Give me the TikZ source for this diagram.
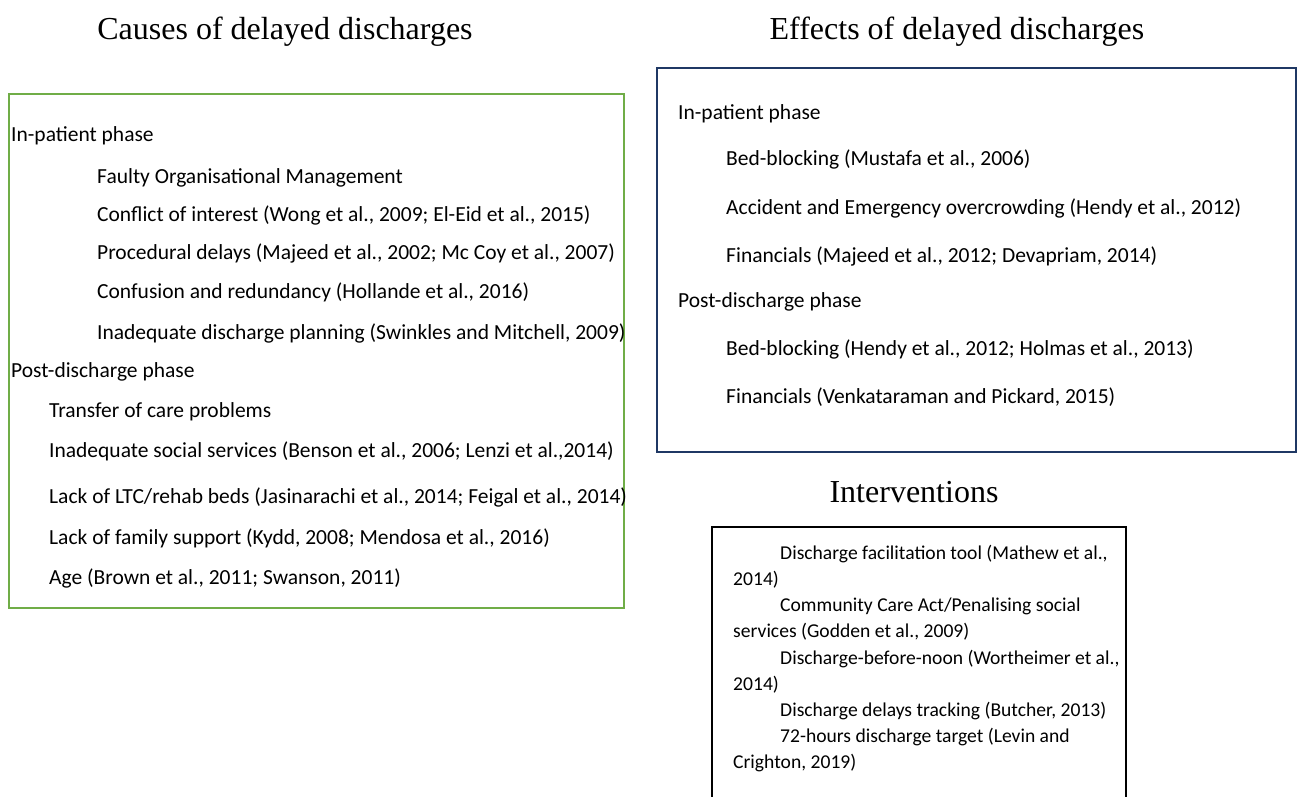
\documentclass[tikz,border=0pt]{standalone}
\usepackage{fontspec}
\setmainfont{Carlito}
\newfontfamily\titlefont{Liberation Serif}
\definecolor{boxgreen}{HTML}{70AD47}
\definecolor{boxnavy}{HTML}{1F3864}
\begin{document}
\begin{tikzpicture}[x=1pt,y=-1pt,
  txt/.style={anchor=base west, inner sep=0pt, font=\fontsize{21.5}{26}\selectfont},
  itxt/.style={anchor=base west, inner sep=0pt, font=\fontsize{19.6}{24}\selectfont},
  ttl/.style={anchor=base, inner sep=0pt, font=\titlefont\fontsize{32}{38}\selectfont},
  greenbox/.style={draw=boxgreen, line width=2.5pt},
  navybox/.style={draw=boxnavy, line width=2.5pt},
  blackbox/.style={draw=black, line width=2pt}]
\useasboundingbox (0,0) rectangle (1298,797);

% titles
\node[ttl] (tcauses) at (285,40) {Causes of delayed discharges};
\node[ttl] (teffects) at (957,40) {Effects of delayed discharges};
\node[ttl] (tinterv) at (914,502) {Interventions};

% boxes
\draw[greenbox] (9,94) rectangle (624,608);
\draw[navybox] (657,68) rectangle (1296,452);
\draw[blackbox] (712,800) -- (712,527) -- (1126,527) -- (1126,800);

% causes
\node[txt] (c1) at (11,142) {In-patient phase};
\node[txt] (c2) at (97,183) {Faulty Organisational Management};
\node[txt] (c3) at (97,221) {Conflict of interest (Wong et al., 2009; El-Eid et al., 2015)};
\node[txt] (c4) at (97,259) {Procedural delays (Majeed et al., 2002; Mc Coy et al., 2007)};
\node[txt] (c5) at (97,298) {Confusion and redundancy (Hollande et al., 2016)};
\node[txt] (c6) at (97,339) {Inadequate discharge planning (Swinkles and Mitchell, 2009)};
\node[txt] (c7) at (11,377) {Post-discharge phase};
\node[txt] (c8) at (49,417) {Transfer of care problems};
\node[txt] (c9) at (49,457) {Inadequate social services (Benson et al., 2006; Lenzi et al.,2014)};
\node[txt] (c10) at (49,503) {Lack of LTC/rehab beds (Jasinarachi et al., 2014; Feigal et al., 2014)};
\node[txt] (c11) at (49,544) {Lack of family support (Kydd, 2008; Mendosa et al., 2016)};
\node[txt] (c12) at (49,584) {Age (Brown et al., 2011; Swanson, 2011)};

% effects
\node[txt] (e1) at (678,120) {In-patient phase};
\node[txt] (e2) at (726,165) {Bed-blocking (Mustafa et al., 2006)};
\node[txt] (e3) at (726,214) {Accident and Emergency overcrowding (Hendy et al., 2012)};
\node[txt] (e4) at (726,262) {Financials (Majeed et al., 2012; Devapriam, 2014)};
\node[txt] (e5) at (678,307) {Post-discharge phase};
\node[txt] (e6) at (726,355) {Bed-blocking (Hendy et al., 2012; Holmas et al., 2013)};
\node[txt] (e7) at (726,403) {Financials (Venkataraman and Pickard, 2015)};

% interventions
\node[itxt] (i1) at (780,559) {Discharge facilitation tool (Mathew et al.,};
\node[itxt] (i2) at (733,585) {2014)};
\node[itxt] (i3) at (780,611) {Community Care Act/Penalising social};
\node[itxt] (i4) at (733,637) {services (Godden et al., 2009)};
\node[itxt] (i5) at (780,664) {Discharge-before-noon (Wortheimer et al.,};
\node[itxt] (i6) at (733,690) {2014)};
\node[itxt] (i7) at (780,716) {Discharge delays tracking (Butcher, 2013)};
\node[itxt] (i8) at (780,742) {72-hours discharge target (Levin and};
\node[itxt] (i9) at (733,768) {Crighton, 2019)};
\end{tikzpicture}
\end{document}
